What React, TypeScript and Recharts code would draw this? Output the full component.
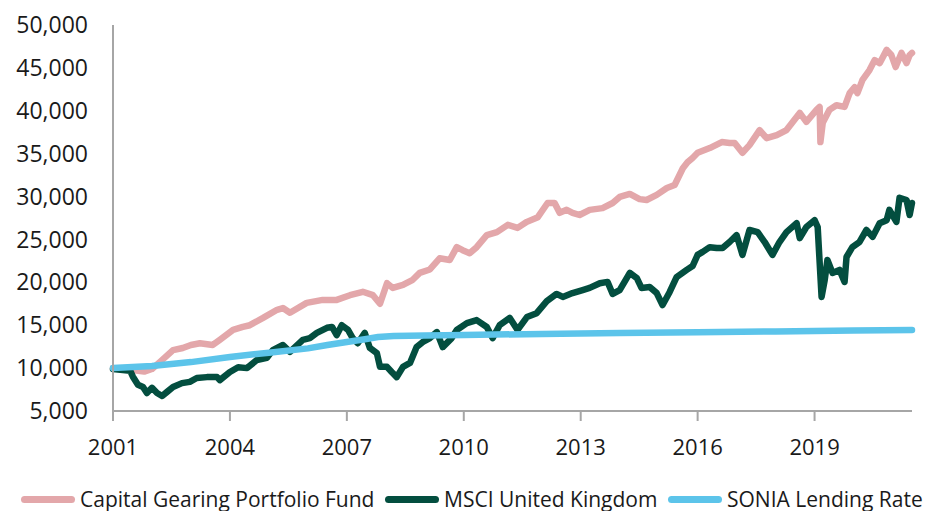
import { LineChart, Line, XAxis, YAxis, Legend } from 'recharts';

// Capital Gearing Portfolio Fund (growth of 10,000)
const cgYears = [
  2001.0, 2001.2, 2001.45, 2001.8, 2002.0, 2002.2, 2002.54, 2002.79, 2003.0, 2003.23,
  2003.56, 2003.74, 2004.08, 2004.33, 2004.51, 2004.85, 2005.21, 2005.36, 2005.54, 2005.97,
  2006.38, 2006.74, 2007.08, 2007.41, 2007.67, 2007.85, 2008.03, 2008.18, 2008.44, 2008.69,
  2008.87, 2009.13, 2009.38, 2009.64, 2009.82, 2009.97, 2010.15, 2010.33, 2010.59, 2010.85,
  2011.13, 2011.38, 2011.62, 2011.9, 2012.15, 2012.33, 2012.46, 2012.64, 2012.79, 2012.97,
  2013.23, 2013.56, 2013.82, 2014.0, 2014.26, 2014.51, 2014.69, 2014.95, 2015.21, 2015.41,
  2015.62, 2015.74, 2015.87, 2016.0, 2016.31, 2016.62, 2016.82, 2016.95, 2017.15, 2017.33,
  2017.59, 2017.77, 2018.03, 2018.28, 2018.44, 2018.62, 2018.79, 2019.05, 2019.13, 2019.15,
  2019.21, 2019.38, 2019.56, 2019.77, 2019.9, 2020.03, 2020.1, 2020.23, 2020.41, 2020.54,
  2020.67, 2020.85, 2020.97, 2021.08, 2021.23, 2021.36, 2021.44, 2021.5,
];
const cgValues = [
  10000, 9900, 9800, 9600, 9900, 10700, 12100, 12350, 12700, 12900,
  12700, 13300, 14450, 14800, 15000, 15850, 16800, 17000, 16450, 17600,
  17950, 17950, 18500, 18900, 18500, 17500, 19900, 19350, 19700, 20300,
  21100, 21500, 22800, 22600, 24100, 23750, 23400, 24100, 25500, 25850,
  26700, 26350, 27050, 27600, 29250, 29250, 28100, 28450, 28100, 27850,
  28450, 28650, 29250, 29950, 30300, 29700, 29600, 30200, 31000, 31350,
  33300, 34000, 34500, 35100, 35650, 36350, 36250, 36250, 35100, 36000,
  37750, 36800, 37150, 37750, 38700, 39750, 38700, 40100, 40450, 36350,
  38600, 40100, 40650, 40450, 42050, 42750, 42050, 43600, 44750, 45900,
  45550, 47100, 46500, 45100, 46750, 45550, 46500, 46750,
];

// MSCI United Kingdom
const msciYears = [
  2001.0, 2001.44, 2001.51, 2001.64, 2001.77, 2001.87, 2002.0, 2002.13, 2002.26, 2002.38,
  2002.54, 2002.77, 2002.97, 2003.15, 2003.41, 2003.67, 2003.74, 2004.0, 2004.21, 2004.44,
  2004.69, 2004.95, 2005.1, 2005.36, 2005.54, 2005.87, 2006.05, 2006.23, 2006.49, 2006.62,
  2006.74, 2006.87, 2007.03, 2007.15, 2007.28, 2007.46, 2007.59, 2007.77, 2007.85, 2008.03,
  2008.15, 2008.28, 2008.44, 2008.62, 2008.79, 2008.95, 2009.13, 2009.31, 2009.46, 2009.69,
  2009.82, 2010.08, 2010.33, 2010.59, 2010.74, 2010.92, 2011.18, 2011.38, 2011.62, 2011.87,
  2012.13, 2012.38, 2012.54, 2012.79, 2013.05, 2013.23, 2013.49, 2013.69, 2013.82, 2014.0,
  2014.26, 2014.44, 2014.56, 2014.77, 2014.95, 2015.1, 2015.28, 2015.46, 2015.72, 2015.87,
  2016.0, 2016.13, 2016.31, 2016.49, 2016.64, 2016.82, 2017.0, 2017.15, 2017.33, 2017.54,
  2017.72, 2017.92, 2018.1, 2018.28, 2018.54, 2018.62, 2018.79, 2019.0, 2019.08, 2019.18,
  2019.26, 2019.33, 2019.46, 2019.64, 2019.77, 2019.82, 2019.97, 2020.15, 2020.33, 2020.49,
  2020.67, 2020.85, 2020.92, 2021.1, 2021.18, 2021.36, 2021.44, 2021.5,
];
const msciValues = [
  9900, 9700, 9000, 8050, 7800, 7100, 7700, 7100, 6750, 7200,
  7800, 8250, 8400, 8850, 8950, 8950, 8600, 9550, 10100, 10000,
  10950, 11200, 12100, 12700, 11900, 13300, 13500, 14100, 14700, 14800,
  13850, 15000, 14450, 13500, 12900, 14100, 12350, 11750, 10150, 10150,
  9550, 8950, 10150, 10600, 12450, 13050, 13500, 14200, 12450, 13500,
  14450, 15250, 15600, 14800, 13500, 15000, 15850, 14450, 15950, 16400,
  17800, 18650, 18300, 18750, 19100, 19350, 19900, 20050, 18650, 19100,
  21100, 20500, 19350, 19450, 18750, 17350, 18850, 20600, 21450, 21900,
  23200, 23550, 24100, 24000, 24000, 24700, 25500, 23200, 26100, 25850,
  24700, 23200, 24700, 25850, 26900, 25150, 26450, 27250, 26450, 18300,
  20250, 22600, 21100, 21450, 20050, 22950, 24100, 24700, 26100, 25300,
  26900, 27250, 28450, 27050, 29850, 29600, 27850, 29250,
];

// SONIA Lending Rate
const soniaYears = [
  2001.0, 2002.0, 2003.0, 2004.0, 2005.0, 2006.0, 2006.5, 2007.0, 2007.5, 2007.8,
  2008.2, 2009.0, 2010.0, 2012.0, 2014.0, 2016.0, 2018.0, 2020.0, 2021.5,
];
const soniaValues = [
  10000, 10250, 10700, 11300, 11800, 12300, 12700, 13050, 13400, 13620,
  13740, 13800, 13870, 13980, 14080, 14180, 14280, 14380, 14450,
];

const xTicks = [2001, 2004, 2007, 2010, 2013, 2016, 2019];
const yTicks = [5000, 10000, 15000, 20000, 25000, 30000, 35000, 40000, 45000, 50000];

const SERIES = [
  { key: 'cg', name: 'Capital Gearing Portfolio Fund', color: '#e3a7aa', years: cgYears, values: cgValues },
  { key: 'msci', name: 'MSCI United Kingdom', color: '#034e3f', years: msciYears, values: msciValues },
  { key: 'sonia', name: 'SONIA Lending Rate', color: '#5cc4ea', years: soniaYears, values: soniaValues },
];

function buildRows() {
  const rows = new Map<number, any>();
  SERIES.forEach((s) => {
    s.years.forEach((yr, i) => {
      const row = rows.get(yr) ?? { year: yr };
      row[s.key] = s.values[i];
      rows.set(yr, row);
    });
  });
  return Array.from(rows.values()).sort((a, b) => a.year - b.year);
}

const data = buildRows();

const FONT = '"Open Sans", sans-serif';
const AXIS_GREY = '#a6a6a6';
const legendLeft = [13, 377, 660];

function ChartLegend() {
  return (
    <div style={{ position: 'relative', height: 24, fontFamily: FONT, fontSize: 21, color: '#1a1a1a', whiteSpace: 'nowrap' }}>
      {SERIES.map((s, i) => (
        <div
          key={s.key}
          style={{ position: 'absolute', left: legendLeft[i], top: 0, height: 24, display: 'flex', alignItems: 'center' }}
        >
          <span style={{ display: 'inline-block', width: 54, height: 7, borderRadius: 4, background: s.color, marginRight: 5 }} />
          <span style={{ lineHeight: '24px' }}>{s.name}</span>
        </div>
      ))}
    </div>
  );
}

export default function App() {
  return (
    <div style={{ width: 926, height: 503 }}>
      <LineChart width={926} height={503} data={data} margin={{ top: 17, right: 22, bottom: 0, left: 0 }}>
        <XAxis
          dataKey="year"
          type="number"
          domain={[2001, 2021.5]}
          ticks={xTicks}
          height={76}
          axisLine={{ stroke: AXIS_GREY, strokeWidth: 2 }}
          tickLine={{ stroke: AXIS_GREY, strokeWidth: 2 }}
          tickSize={10}
          tickMargin={18}
          tick={{ fill: '#1a1a1a', fontSize: 22, fontFamily: FONT }}
        />
        <YAxis
          type="number"
          domain={[5000, 50000]}
          ticks={yTicks}
          width={105}
          axisLine={{ stroke: AXIS_GREY, strokeWidth: 2 }}
          tickLine={false}
          tickSize={0}
          tickMargin={25}
          tick={{ fill: '#1a1a1a', fontSize: 23, fontFamily: FONT }}
          tickFormatter={(v: number) => v.toLocaleString('en-US')}
        />
        <Legend verticalAlign="bottom" content={() => <ChartLegend />} wrapperStyle={{ left: 0, width: 926 }} />
        {SERIES.map((s) => (
          <Line
            key={s.key}
            dataKey={s.key}
            name={s.name}
            type="linear"
            stroke={s.color}
            strokeWidth={6.5}
            strokeLinejoin="round"
            strokeLinecap="round"
            dot={false}
            activeDot={false}
            connectNulls
            isAnimationActive={false}
          />
        ))}
      </LineChart>
    </div>
  );
}
